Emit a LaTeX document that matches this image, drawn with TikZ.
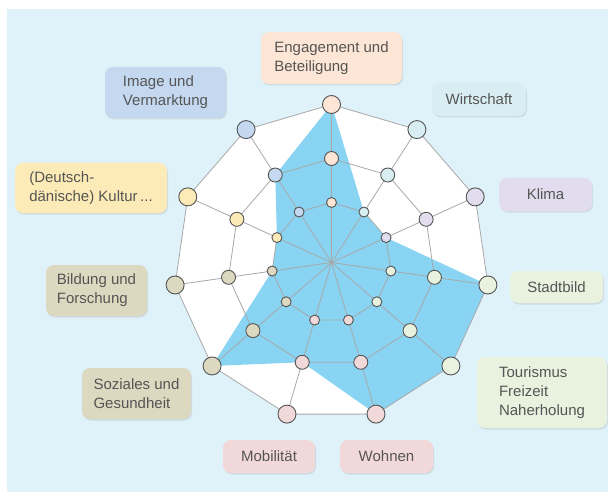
\documentclass[tikz,border=0pt]{standalone}
\usepackage{fontspec}
\setmainfont{Liberation Sans}
\usepackage{tikz}
\usetikzlibrary{shadows}

\definecolor{panelblue}{HTML}{DFF1F9}
\definecolor{datablue}{HTML}{89D4F3}
\definecolor{gridgray}{HTML}{A8A8A8}
\definecolor{nodegray}{HTML}{555555}
\definecolor{textgray}{HTML}{555555}
\definecolor{engcol}{HTML}{FDE6D5}
\definecolor{wirtcol}{HTML}{D9EEF3}
\definecolor{klimacol}{HTML}{E2DDEE}
\definecolor{stadtcol}{HTML}{E9F2DF}
\definecolor{wohncol}{HTML}{F2D9D9}
\definecolor{sozcol}{HTML}{DDD8C0}
\definecolor{kultcol}{HTML}{FDEBB7}
\definecolor{imgcol}{HTML}{C4D9EF}

\begin{document}
\begin{tikzpicture}[x=1pt,y=-1pt]
	\tikzstyle{every node}=[font=\fontsize{15}{19}\selectfont, text=textgray]
	\tikzstyle{grid}=[draw=gridgray, line width=0.8pt]
	\tikzstyle{dot}=[circle, draw=nodegray, line width=0.9pt, inner sep=0pt]
	\tikzstyle{outer}=[dot, minimum size=18pt]
	\tikzstyle{middle}=[dot, minimum size=14pt]
	\tikzstyle{inner}=[dot, minimum size=10pt]
	\tikzstyle{tagbox}=[rounded corners=8pt, align=left, inner sep=0pt, drop shadow={shadow xshift=1pt, shadow yshift=-1.5pt, opacity=0.18}]

	%%panel
	\useasboundingbox (0,0) rectangle (608,492);
	\fill [panelblue] (7,9) rectangle (608,492);

	%%grid points
	\coordinate (O) at (331.5000,262.5000);
	\coordinate (A0) at (331.5000,104.5000);
	\coordinate (A1) at (416.9200,129.5800);
	\coordinate (A2) at (475.2200,196.8600);
	\coordinate (A3) at (487.8900,284.9800);
	\coordinate (A4) at (450.9100,365.9700);
	\coordinate (A5) at (376.0100,414.1000);
	\coordinate (A6) at (286.9900,414.1000);
	\coordinate (A7) at (212.0900,365.9700);
	\coordinate (A8) at (175.1100,284.9800);
	\coordinate (A9) at (187.7800,196.8600);
	\coordinate (A10) at (246.0800,129.5800);
	\coordinate (B0) at (331.5000,158.5000);
	\coordinate (B1) at (387.7300,175.0100);
	\coordinate (B2) at (426.1000,219.3000);
	\coordinate (B3) at (434.4400,277.3000);
	\coordinate (B4) at (410.1000,330.6100);
	\coordinate (B5) at (360.8000,362.2900);
	\coordinate (B6) at (302.2000,362.2900);
	\coordinate (B7) at (252.9000,330.6100);
	\coordinate (B8) at (228.5600,277.3000);
	\coordinate (B9) at (236.9000,219.3000);
	\coordinate (B10) at (275.2700,175.0100);
	\coordinate (C0) at (331.5000,202.5000);
	\coordinate (C1) at (363.9400,212.0200);
	\coordinate (C2) at (386.0800,237.5700);
	\coordinate (C3) at (390.8900,271.0400);
	\coordinate (C4) at (376.8500,301.7900);
	\coordinate (C5) at (348.4000,320.0700);
	\coordinate (C6) at (314.6000,320.0700);
	\coordinate (C7) at (286.1500,301.7900);
	\coordinate (C8) at (272.1100,271.0400);
	\coordinate (C9) at (276.9200,237.5700);
	\coordinate (C10) at (299.0600,212.0200);

	%%web and data
	\fill [white] (A0) -- (A1) -- (A2) -- (A3) -- (A4) -- (A5) -- (A6) -- (A7) -- (A8) -- (A9) -- (A10) -- cycle;
	\fill [datablue] (A0) -- (C1) -- (C2) -- (A3) -- (A4) -- (A5) -- (B6) -- (A7) -- (C8) -- (C9) -- (B10) -- cycle;
	\draw [grid] (A0) -- (A1) -- (A2) -- (A3) -- (A4) -- (A5) -- (A6) -- (A7) -- (A8) -- (A9) -- (A10) -- cycle;
	\draw [grid] (B0) -- (B1) -- (B2) -- (B3) -- (B4) -- (B5) -- (B6) -- (B7) -- (B8) -- (B9) -- (B10) -- cycle;
	\draw [grid] (C0) -- (C1) -- (C2) -- (C3) -- (C4) -- (C5) -- (C6) -- (C7) -- (C8) -- (C9) -- (C10) -- cycle;
	\draw [grid] (O) -- (C0) -- (B0) -- (A0);
	\draw [grid] (O) -- (C1) -- (B1) -- (A1);
	\draw [grid] (O) -- (C2) -- (B2) -- (A2);
	\draw [grid] (O) -- (C3) -- (B3) -- (A3);
	\draw [grid] (O) -- (C4) -- (B4) -- (A4);
	\draw [grid] (O) -- (C5) -- (B5) -- (A5);
	\draw [grid] (O) -- (C6) -- (B6) -- (A6);
	\draw [grid] (O) -- (C7) -- (B7) -- (A7);
	\draw [grid] (O) -- (C8) -- (B8) -- (A8);
	\draw [grid] (O) -- (C9) -- (B9) -- (A9);
	\draw [grid] (O) -- (C10) -- (B10) -- (A10);

	%%points
	\node [outer , fill= engcol ,] (engA) at (A0) {};
	\node [middle , fill= engcol ,] (engB) at (B0) {};
	\node [inner , fill= engcol ,] (engC) at (C0) {};
	\node [outer , fill= wirtcol ,] (wirtA) at (A1) {};
	\node [middle , fill= wirtcol ,] (wirtB) at (B1) {};
	\node [inner , fill= wirtcol ,] (wirtC) at (C1) {};
	\node [outer , fill= klimacol ,] (klimaA) at (A2) {};
	\node [middle , fill= klimacol ,] (klimaB) at (B2) {};
	\node [inner , fill= klimacol ,] (klimaC) at (C2) {};
	\node [outer , fill= stadtcol ,] (stadtA) at (A3) {};
	\node [middle , fill= stadtcol ,] (stadtB) at (B3) {};
	\node [inner , fill= stadtcol ,] (stadtC) at (C3) {};
	\node [outer , fill= stadtcol ,] (tourA) at (A4) {};
	\node [middle , fill= stadtcol ,] (tourB) at (B4) {};
	\node [inner , fill= stadtcol ,] (tourC) at (C4) {};
	\node [outer , fill= wohncol ,] (wohnA) at (A5) {};
	\node [middle , fill= wohncol ,] (wohnB) at (B5) {};
	\node [inner , fill= wohncol ,] (wohnC) at (C5) {};
	\node [outer , fill= wohncol ,] (mobA) at (A6) {};
	\node [middle , fill= wohncol ,] (mobB) at (B6) {};
	\node [inner , fill= wohncol ,] (mobC) at (C6) {};
	\node [outer , fill= sozcol ,] (sozA) at (A7) {};
	\node [middle , fill= sozcol ,] (sozB) at (B7) {};
	\node [inner , fill= sozcol ,] (sozC) at (C7) {};
	\node [outer , fill= sozcol ,] (bildA) at (A8) {};
	\node [middle , fill= sozcol ,] (bildB) at (B8) {};
	\node [inner , fill= sozcol ,] (bildC) at (C8) {};
	\node [outer , fill= kultcol ,] (kultA) at (A9) {};
	\node [middle , fill= kultcol ,] (kultB) at (B9) {};
	\node [inner , fill= kultcol ,] (kultC) at (C9) {};
	\node [outer , fill= imgcol ,] (imgA) at (A10) {};
	\node [middle , fill= imgcol ,] (imgB) at (B10) {};
	\node [inner , fill= imgcol ,] (imgC) at (C10) {};

	%%labels
	\node [tagbox , fill= engcol , minimum width=141pt, minimum height=52pt] (engT) at (331.5000,58.0000) {Engagement und\\Beteiligung};
	\node [tagbox , fill= wirtcol , minimum width=94pt, minimum height=33pt] (wirtT) at (479.0000,99.5000) {Wirtschaft};
	\node [tagbox , fill= klimacol , minimum width=93pt, minimum height=33pt] (klimaT) at (545.5000,194.5000) {Klima};
	\node [tagbox , fill= stadtcol , minimum width=93pt, minimum height=32pt] (stadtT) at (556.5000,287.0000) {Stadtbild};
	\node [tagbox , fill= stadtcol , minimum width=130pt, minimum height=71pt] (tourT) at (542.0000,392.5000) {Tourismus\\Freizeit\\Naherholung};
	\node [tagbox , fill= wohncol , minimum width=93pt, minimum height=33pt] (wohnT) at (386.5000,456.5000) {Wohnen};
	\node [tagbox , fill= wohncol , minimum width=92pt, minimum height=33pt] (mobT) at (269.0000,456.5000) {Mobilität};
	\node [tagbox , fill= sozcol , minimum width=109pt, minimum height=51pt] (sozT) at (136.5000,393.5000) {Soziales und\\Gesundheit};
	\node [tagbox , fill= sozcol , minimum width=101pt, minimum height=51pt] (bildT) at (96.5000,290.5000) {Bildung und\\Forschung};
	\node [tagbox , fill= kultcol , minimum width=152pt, minimum height=50pt] (kultT) at (91.0000,188.0000) {(Deutsch-\\dänische) Kultur\,...};
	\node [tagbox , fill= imgcol , minimum width=121pt, minimum height=51pt] (imgT) at (165.5000,92.5000) {Image und\\Vermarktung};

\end{tikzpicture}
\end{document}
